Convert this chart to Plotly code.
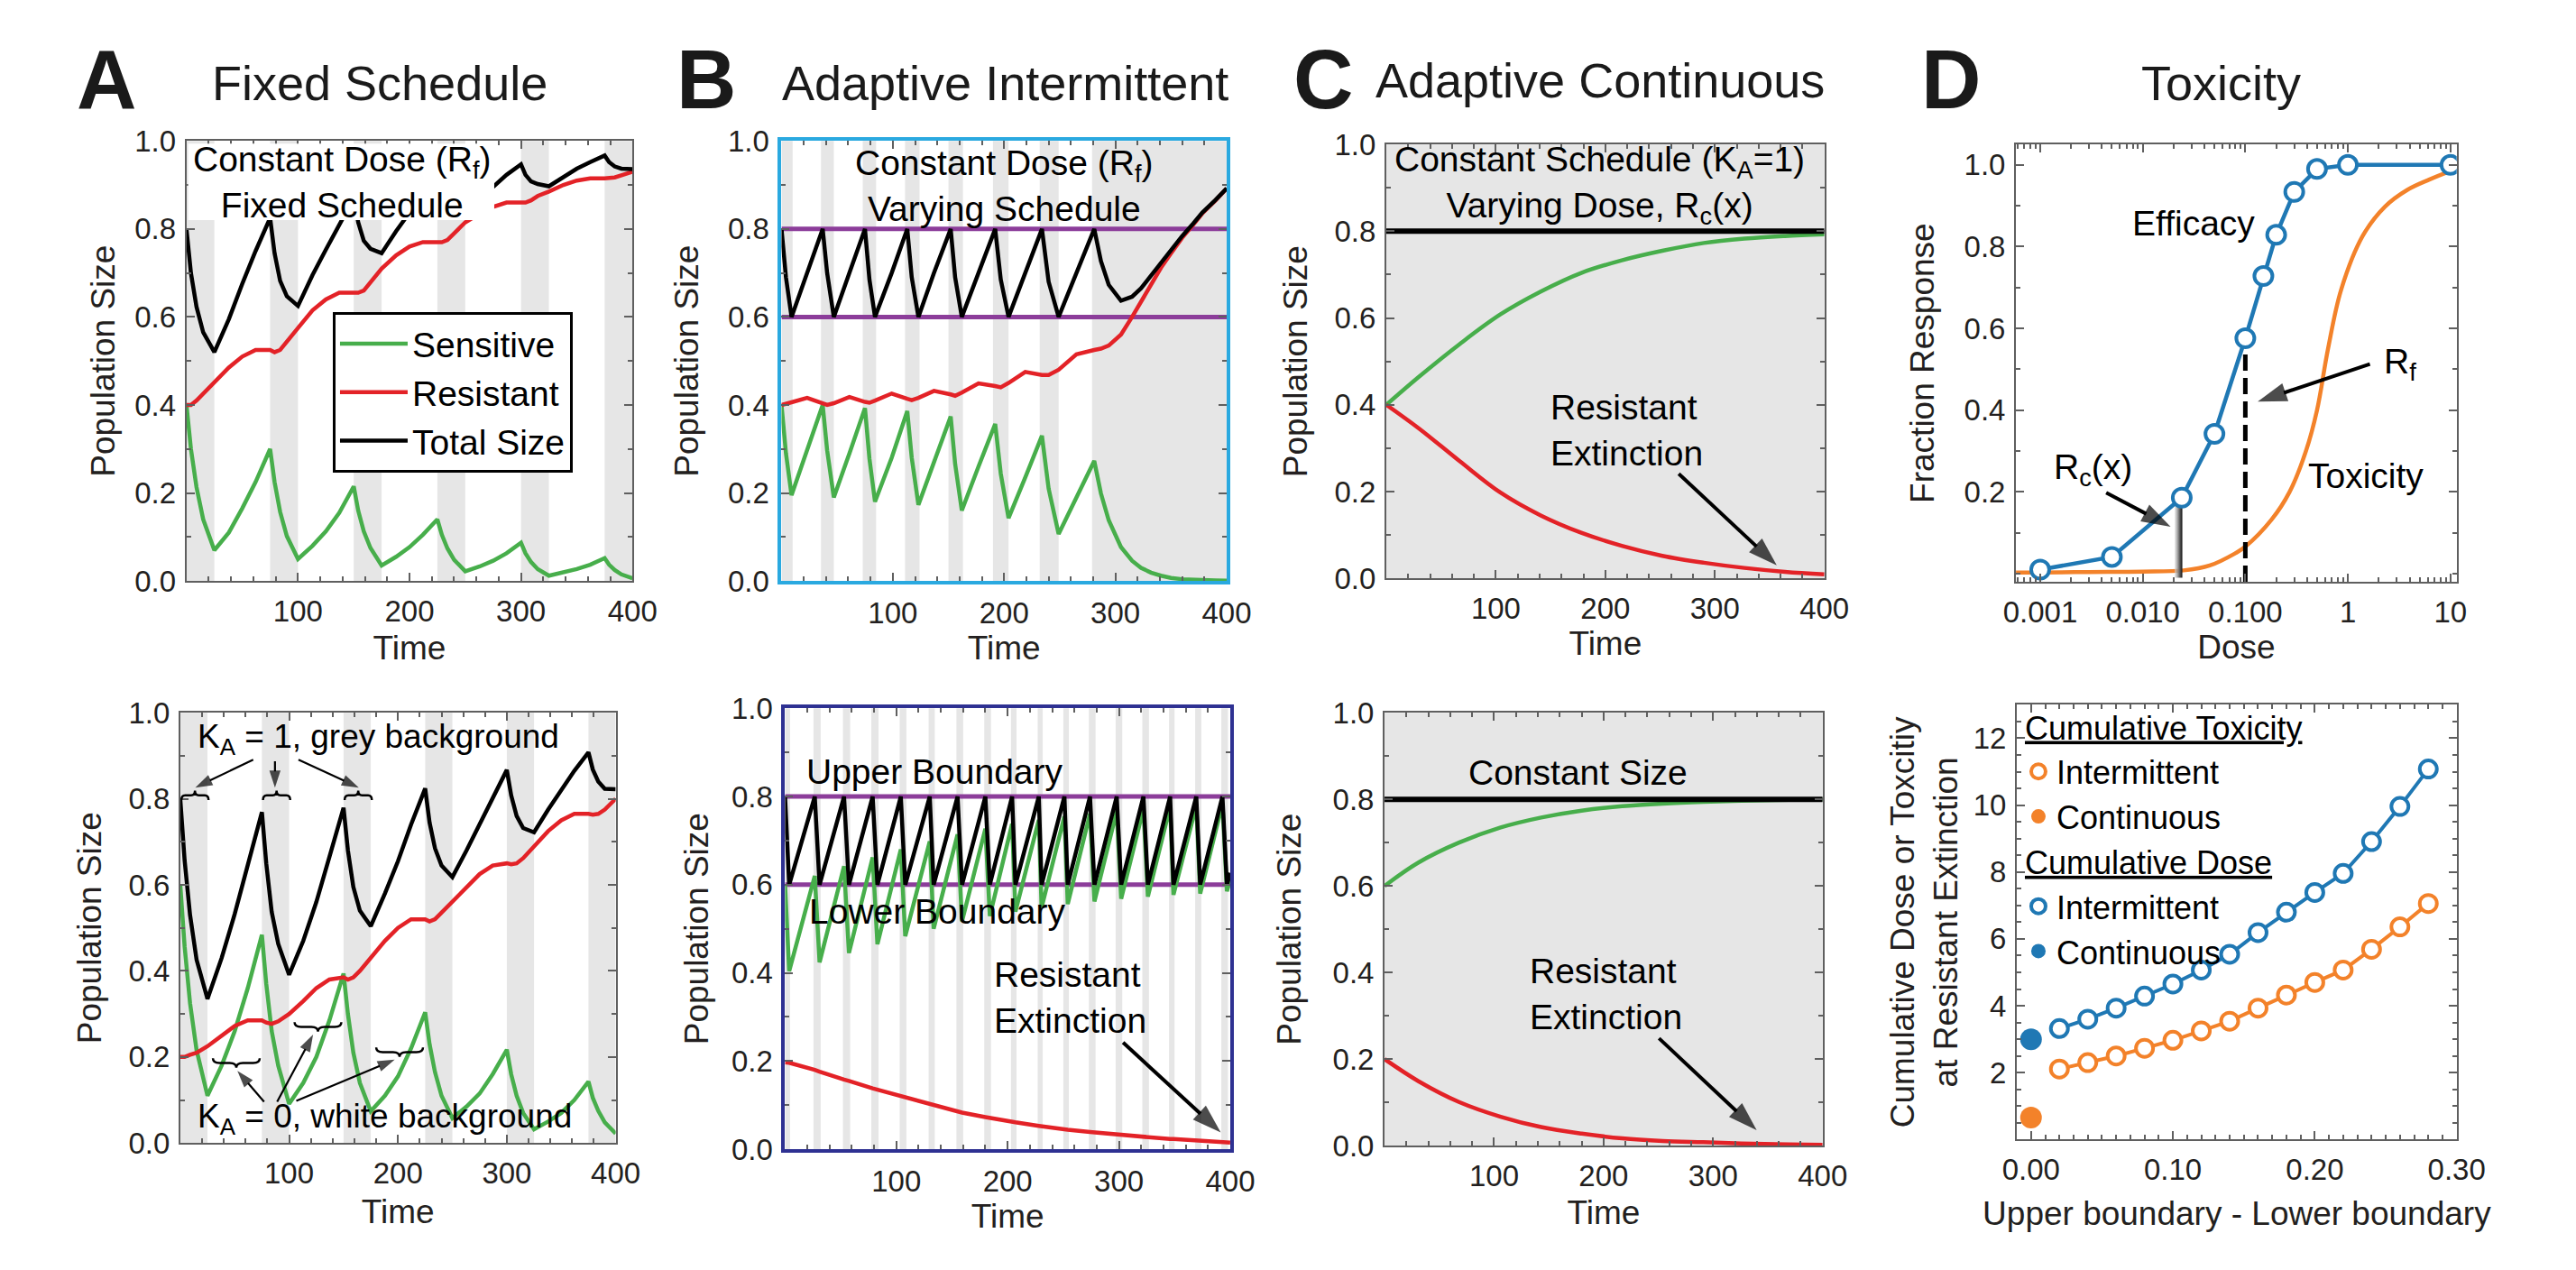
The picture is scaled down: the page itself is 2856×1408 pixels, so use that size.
import numpy as np
import plotly.graph_objects as go

W, H = 2856, 1408
FONT = "Liberation Sans, Arial, Helvetica, sans-serif"
TXT = "#231F20"
AXC = "#5F5F5F"
GREEN = "#47AE4B"
RED = "#E32227"
BLACK = "#000000"
PURPLE = "#8C3D9A"
BAND = "#E6E6E6"
BLUE = "#1F78B4"
ORANGE = "#F3822A"
B_TOP_FRAME = "#2AA9E0"
B_BOT_FRAME = "#2E3192"

# ======================= DATA =======================
# ---- Panel A: fixed schedule (treatment on during grey bands) ----
a_on_start = [0, 75, 150, 225, 300, 375]
a_on_end = [25, 100, 175, 250, 325, 400]
t_a = [0, 4, 9, 15, 25, 38, 50, 62, 75, 79, 84, 90, 100, 113, 125, 137, 150,
       154, 159, 165, 175, 188, 200, 212, 225, 229, 234, 240, 250, 263, 275,
       287, 300, 304, 309, 315, 325, 338, 350, 362, 375, 379, 384, 390, 400]
a_top_sens = [0.40, 0.30, 0.213, 0.14, 0.07, 0.11, 0.165, 0.225, 0.30,
              0.225, 0.157, 0.102, 0.05, 0.08, 0.113, 0.155, 0.215,
              0.16, 0.113, 0.075, 0.035, 0.055, 0.077, 0.105, 0.14,
              0.105, 0.074, 0.048, 0.022, 0.033, 0.046, 0.063, 0.087,
              0.063, 0.043, 0.027, 0.012, 0.019, 0.027, 0.037, 0.052,
              0.037, 0.025, 0.015, 0.006]
a_top_res = [0.40, 0.40, 0.41, 0.425, 0.45, 0.485, 0.51, 0.525, 0.525,
             0.52, 0.525, 0.545, 0.575, 0.615, 0.64, 0.655, 0.655,
             0.655, 0.66, 0.68, 0.71, 0.74, 0.76, 0.77, 0.77,
             0.77, 0.775, 0.79, 0.815, 0.835, 0.85, 0.86, 0.86,
             0.86, 0.865, 0.875, 0.885, 0.90, 0.91, 0.915, 0.915,
             0.915, 0.917, 0.922, 0.93]
a_top_total = [0.80, 0.70, 0.623, 0.565, 0.52, 0.595, 0.675, 0.75, 0.825,
               0.745, 0.682, 0.647, 0.625, 0.695, 0.753, 0.81, 0.87,
               0.815, 0.773, 0.755, 0.745, 0.795, 0.837, 0.875, 0.91,
               0.875, 0.849, 0.838, 0.837, 0.868, 0.896, 0.923, 0.947,
               0.923, 0.908, 0.902, 0.897, 0.919, 0.937, 0.952, 0.967,
               0.952, 0.942, 0.937, 0.936]
a_bot_sens = [0.60, 0.457, 0.325, 0.216, 0.11, 0.18, 0.26, 0.36, 0.484,
              0.37, 0.26, 0.18, 0.091, 0.14, 0.20, 0.285, 0.394,
              0.30, 0.21, 0.14, 0.074, 0.11, 0.155, 0.22, 0.304,
              0.23, 0.165, 0.11, 0.058, 0.085, 0.115, 0.16, 0.217,
              0.16, 0.11, 0.07, 0.032, 0.05, 0.07, 0.10, 0.143,
              0.105, 0.075, 0.048, 0.022]
a_bot_res = [0.20, 0.20, 0.205, 0.21, 0.225, 0.25, 0.272, 0.285, 0.285,
             0.28, 0.277, 0.283, 0.30, 0.33, 0.36, 0.38, 0.385,
             0.38, 0.385, 0.40, 0.43, 0.47, 0.50, 0.52, 0.52,
             0.515, 0.52, 0.535, 0.56, 0.595, 0.625, 0.645, 0.65,
             0.648, 0.65, 0.662, 0.69, 0.725, 0.75, 0.765, 0.765,
             0.763, 0.765, 0.775, 0.80]
a_bot_total = [0.80, 0.657, 0.53, 0.426, 0.335, 0.43, 0.532, 0.645, 0.769,
               0.65, 0.537, 0.463, 0.391, 0.47, 0.56, 0.665, 0.779,
               0.68, 0.595, 0.54, 0.504, 0.58, 0.655, 0.74, 0.824,
               0.745, 0.685, 0.645, 0.618, 0.68, 0.74, 0.805, 0.867,
               0.808, 0.76, 0.732, 0.722, 0.775, 0.82, 0.865, 0.908,
               0.868, 0.84, 0.823, 0.822]

# ---- Panel B: adaptive intermittent ----
upper_boundary = 0.8
lower_boundary = 0.6
b_top_on_start = [0, 35.5, 73, 111, 150, 190, 232, 279]
b_top_on_end = [10, 47, 85, 124, 163, 204, 249, 400]
t_b_top = [0, 4, 9, 23, 37, 41, 47, 61, 75, 79, 84, 99, 113, 117, 123, 137,
           152, 156, 162, 177, 192, 197, 204, 219, 234, 240, 249, 265, 281,
           287, 294, 305, 315, 323, 332, 341, 350, 360, 370, 378, 390, 400]
b_top_sens = [0.40, 0.29, 0.195, 0.30, 0.40, 0.297, 0.19, 0.29, 0.393, 0.278,
              0.18, 0.28, 0.386, 0.28, 0.173, 0.27, 0.374, 0.266, 0.16, 0.26,
              0.357, 0.244, 0.143, 0.235, 0.33, 0.21, 0.107, 0.19, 0.273,
              0.199, 0.138, 0.077, 0.046, 0.030, 0.019, 0.012, 0.007, 0.004,
              0.0025, 0.0017, 0.001, 0.0005]
b_top_res = [0.40, 0.402, 0.406, 0.416, 0.402, 0.40, 0.404, 0.418, 0.407,
             0.405, 0.41, 0.426, 0.414, 0.411, 0.416, 0.432, 0.424, 0.421,
             0.428, 0.449, 0.443, 0.44, 0.45, 0.475, 0.468, 0.468, 0.48,
             0.515, 0.525, 0.528, 0.535, 0.56, 0.60, 0.635, 0.675, 0.712,
             0.745, 0.78, 0.81, 0.835, 0.865, 0.892]
b_top_total = [0.80, 0.69, 0.60, 0.70, 0.80, 0.70, 0.60, 0.70, 0.80, 0.685,
               0.60, 0.70, 0.80, 0.69, 0.60, 0.70, 0.80, 0.69, 0.60, 0.70,
               0.80, 0.685, 0.60, 0.70, 0.80, 0.68, 0.60, 0.70, 0.80,
               0.727, 0.673, 0.637, 0.646, 0.665, 0.694, 0.724, 0.752, 0.784,
               0.8125, 0.837, 0.866, 0.8925]

b_bot_on_start = [0, 25.5, 52, 77.5, 103, 129, 154, 179, 203, 227, 250, 273,
                  297, 321, 345, 368.5, 392]
b_bot_on_end = [4.5, 32, 58.5, 84, 109, 134.5, 160, 185, 208, 231.5, 255, 279,
                303, 327, 350, 374, 398]
t_b_bot = [0, 3.7, 26.7, 31, 53, 57.4, 78.7, 83, 104, 108, 130, 133.5, 155,
           159, 180, 184, 204, 207, 228, 230.5, 251, 254, 274, 278, 298, 302,
           322, 326, 346, 349, 369.5, 373, 393, 397, 400]
b_bot_sens = [0.60, 0.404, 0.62, 0.424, 0.642, 0.445, 0.662, 0.465, 0.68,
              0.483, 0.698, 0.50, 0.714, 0.517, 0.727, 0.529, 0.738, 0.539,
              0.747, 0.548, 0.755, 0.556, 0.761, 0.562, 0.767, 0.568, 0.772,
              0.573, 0.777, 0.577, 0.78, 0.58, 0.784, 0.585, 0.612]
b_bot_res = [0.197, 0.196, 0.18, 0.176, 0.158, 0.155, 0.138, 0.135, 0.12,
             0.117, 0.102, 0.10, 0.086, 0.083, 0.073, 0.071, 0.062, 0.061,
             0.053, 0.052, 0.045, 0.044, 0.039, 0.038, 0.033, 0.032, 0.028,
             0.027, 0.023, 0.023, 0.02, 0.0195, 0.016, 0.015, 0.015]
b_bot_total = [0.80, 0.60, 0.80, 0.60, 0.80, 0.60, 0.80, 0.60, 0.80, 0.60,
               0.80, 0.60, 0.80, 0.60, 0.80, 0.60, 0.80, 0.60, 0.80, 0.60,
               0.80, 0.60, 0.80, 0.60, 0.80, 0.60, 0.80, 0.60, 0.80, 0.60,
               0.80, 0.60, 0.80, 0.60, 0.627]

# ---- Panel C: adaptive continuous ----
t_c_top = [0, 30, 67, 104, 141, 178, 215, 252, 290, 327, 364, 400]
c_top_sens = [0.40, 0.465, 0.54, 0.608, 0.661, 0.704, 0.733, 0.755, 0.773,
              0.783, 0.789, 0.793]
c_top_res = [0.40, 0.345, 0.27, 0.198, 0.145, 0.105, 0.075, 0.052, 0.036,
             0.024, 0.015, 0.009]
t_c_total = [0, 400]
c_total = [0.8, 0.8]
t_c_bot = [0, 31, 68, 106, 143, 180, 217, 254, 291, 347, 400]
c_bot_sens = [0.60, 0.654, 0.70, 0.735, 0.758, 0.774, 0.784, 0.79, 0.794,
              0.798, 0.80]
c_bot_res = [0.20, 0.149, 0.101, 0.067, 0.043, 0.028, 0.017, 0.011, 0.008,
             0.004, 0.002]

# ---- Panel D: dose response ----
eff_dose = [0.001, 0.005, 0.024, 0.05, 0.1, 0.15, 0.2, 0.3, 0.5, 1, 10]
eff_resp = [0.010, 0.041, 0.186, 0.342, 0.576, 0.728, 0.829, 0.934, 0.99, 1.0, 1.0]
tox_dose = [0.00058, 0.001, 0.003, 0.01, 0.025, 0.045, 0.08, 0.1, 0.18, 0.27,
            0.39, 0.5, 0.64, 0.86, 1.4, 2.3, 3.8, 6.2, 10]
tox_resp = [0.003, 0.003, 0.004, 0.005, 0.008, 0.02, 0.05, 0.066, 0.132, 0.20,
            0.30, 0.40, 0.55, 0.695, 0.827, 0.898, 0.939, 0.964, 0.985]
rf_dose = 0.1
rf_resp = 0.585
rc_dose = [0.0205, 0.0243]
rc_resp_top = [0.168, 0.186]

bound_width = [0.02, 0.04, 0.06, 0.08, 0.10, 0.12, 0.14, 0.16, 0.18, 0.20,
               0.22, 0.24, 0.26, 0.28]
cum_dose_int = [3.32, 3.60, 3.93, 4.29, 4.65, 5.07, 5.54, 6.19, 6.80, 7.39,
                7.96, 8.91, 9.96, 11.08]
cum_tox_int = [2.11, 2.30, 2.50, 2.73, 2.97, 3.25, 3.54, 3.93, 4.32, 4.70,
               5.07, 5.69, 6.36, 7.06]
cont_width = [0.0]
cum_dose_cont = [3.0]
cum_tox_cont = [0.66]

# ======================= FIGURE =======================
fig = go.Figure()

def xa(n):
    return "x" if n == 1 else f"x{n}"

def ya(n):
    return "y" if n == 1 else f"y{n}"

def sub(s):
    # subscript via a styled span (no zero-width helper glyphs)
    return f'<span style="font-size:70%;baseline-shift:-8px">{s}</span>'

def add_line(n, x, y, color, width=4.5, name=None, legend=None, shape="linear", dash=None):
    fig.add_trace(go.Scatter(
        x=x, y=y, mode="lines", name=name,
        line=dict(color=color, width=width, shape=shape, dash=dash),
        xaxis=xa(n), yaxis=ya(n), hoverinfo="skip",
        showlegend=legend is not None, legend=legend or "legend"))

def add_bands(n, starts, ends):
    for s, e in zip(starts, ends):
        fig.add_shape(type="rect", xref=xa(n), yref=f"{ya(n)} domain",
                      x0=s, x1=e, y0=0, y1=1, fillcolor=BAND,
                      line=dict(width=0), layer="below")

# ---- A top ----
add_bands(1, a_on_start, a_on_end)
add_line(1, t_a, a_top_sens, GREEN, name="Sensitive", legend="legend")
add_line(1, t_a, a_top_res, RED, name="Resistant", legend="legend")
add_line(1, t_a, a_top_total, BLACK, name="Total Size", legend="legend")

# ---- B top ----
add_bands(2, b_top_on_start, b_top_on_end)
for lvl in (upper_boundary, lower_boundary):
    add_line(2, [0, 400], [lvl, lvl], PURPLE, width=5)
add_line(2, t_b_top, b_top_sens, GREEN)
add_line(2, t_b_top, b_top_res, RED)
add_line(2, t_b_top, b_top_total, BLACK)

# ---- C top ----
fig.add_shape(type="rect", xref="x3 domain", yref="y3 domain", x0=0, x1=1, y0=0, y1=1,
              fillcolor=BAND, line=dict(width=0), layer="below")
add_line(3, t_c_top, c_top_sens, GREEN, shape="spline")
add_line(3, t_c_top, c_top_res, RED, shape="spline")
add_line(3, t_c_total, c_total, BLACK, width=6)

# ---- D top ----
add_line(4, tox_dose, tox_resp, ORANGE, width=4.5, shape="spline")
fig.add_trace(go.Scatter(
    x=[rc_dose[0], rc_dose[1], rc_dose[1], rc_dose[0], rc_dose[0]],
    y=[-0.01, -0.01, rc_resp_top[1], rc_resp_top[0], -0.01],
    mode="lines", fill="toself", line=dict(width=0),
    fillgradient=dict(type="horizontal",
                      colorscale=[[0, "rgba(215,215,215,0.6)"], [0.6, "#6a6a6a"], [1, "#111111"]]),
    xaxis="x4", yaxis="y4", showlegend=False, hoverinfo="skip"))
add_line(4, [rf_dose, rf_dose], [-0.02, rf_resp], BLACK, width=5, dash="18px,8px")
fig.add_trace(go.Scatter(
    x=eff_dose, y=eff_resp, mode="lines+markers",
    line=dict(color=BLUE, width=4.5),
    marker=dict(symbol="circle", size=20, color="white", line=dict(color=BLUE, width=4)),
    xaxis="x4", yaxis="y4", showlegend=False, hoverinfo="skip"))

# ---- A bottom ----
add_bands(5, a_on_start, a_on_end)
add_line(5, t_a, a_bot_sens, GREEN)
add_line(5, t_a, a_bot_res, RED)
add_line(5, t_a, a_bot_total, BLACK)

# ---- B bottom ----
add_bands(6, b_bot_on_start, b_bot_on_end)
for lvl in (upper_boundary, lower_boundary):
    add_line(6, [0, 400], [lvl, lvl], PURPLE, width=5)
add_line(6, t_b_bot, b_bot_sens, GREEN)
add_line(6, t_b_bot, b_bot_res, RED)
add_line(6, t_b_bot, b_bot_total, BLACK)

# ---- C bottom ----
fig.add_shape(type="rect", xref="x7 domain", yref="y7 domain", x0=0, x1=1, y0=0, y1=1,
              fillcolor=BAND, line=dict(width=0), layer="below")
add_line(7, t_c_bot, c_bot_sens, GREEN, shape="spline")
add_line(7, t_c_bot, c_bot_res, RED, shape="spline")
add_line(7, t_c_total, c_total, BLACK, width=6)

# ---- D bottom ----
add_line(8, bound_width, cum_tox_int, ORANGE, width=4)
add_line(8, bound_width, cum_dose_int, BLUE, width=4)

def open_marker(c):
    return dict(symbol="circle", size=19, color="white", line=dict(color=c, width=4))

fig.add_trace(go.Scatter(x=bound_width, y=cum_tox_int, mode="markers", name="Intermittent",
                         marker=open_marker(ORANGE), xaxis="x8", yaxis="y8",
                         legend="legend2", legendgroup="tox",
                         legendgrouptitle=dict(text="<u>Cumulative Toxicity</u>"),
                         hoverinfo="skip"))
fig.add_trace(go.Scatter(x=cont_width, y=cum_tox_cont, mode="markers", name="Continuous",
                         marker=dict(symbol="circle", size=24, color=ORANGE),
                         xaxis="x8", yaxis="y8", legend="legend2", legendgroup="tox",
                         hoverinfo="skip"))
fig.add_trace(go.Scatter(x=bound_width, y=cum_dose_int, mode="markers", name="Intermittent",
                         marker=open_marker(BLUE), xaxis="x8", yaxis="y8",
                         legend="legend2", legendgroup="dose",
                         legendgrouptitle=dict(text="<u>Cumulative Dose</u>"),
                         hoverinfo="skip"))
fig.add_trace(go.Scatter(x=cont_width, y=cum_dose_cont, mode="markers", name="Continuous",
                         marker=dict(symbol="circle", size=24, color=BLUE),
                         xaxis="x8", yaxis="y8", legend="legend2", legendgroup="dose",
                         hoverinfo="skip"))

# ======================= ARROWS (line + arrow-head marker) =======================
def arrow(n, tail, head, width=4.0, head_size=34):
    fig.add_trace(go.Scatter(
        x=[tail[0], head[0]], y=[tail[1], head[1]], mode="lines+markers",
        line=dict(color="black", width=width),
        marker=dict(symbol="arrow", size=[0, head_size], angleref="previous",
                    color="black", line=dict(width=0)),
        xaxis=xa(n), yaxis=ya(n), showlegend=False, hoverinfo="skip"))

arrow(3, (267, 0.241), (356.5, 0.03))
arrow(7, (250.6, 0.248), (339.8, 0.036))
arrow(6, (303.7, 0.242), (391.5, 0.038))
arrow(4, (1.64, 0.513), (0.132, 0.421))
arrow(4, (0.0044, 0.198), (0.0187, 0.115))
for tail, head in (((67, 0.891), (13.8, 0.826)), ((87, 0.887), (87, 0.826)),
                   ((108.6, 0.891), (164, 0.826)), ((77, 0.096), (52.5, 0.168)),
                   ((89, 0.096), (122, 0.252)), ((106.6, 0.098), (197, 0.194))):
    arrow(5, tail, head, width=2.2, head_size=20)

# ======================= AXES =======================
boxes = {  # pixel boxes: (left, right, top, bottom)
    1: (194, 697, 142, 643), 2: (865, 1367, 142, 643),
    3: (1547, 2041, 146, 640), 4: (2257, 2754, 146, 644),
    5: (187, 678, 793, 1283), 6: (869, 1371, 788, 1290),
    7: (1545, 2039, 793, 1286), 8: (2258, 2754, 784, 1279),
}

def axis(n, which, frame=AXC, fw=2, **kw):
    l, r, t, b = boxes[n]
    if which == "x":
        dom = [l / W, r / W]
        anchor = ya(n)
    else:
        dom = [1 - b / H, 1 - t / H]
        anchor = xa(n)
    d = dict(domain=dom, anchor=anchor, showline=True, linecolor=frame, linewidth=fw,
             mirror="allticks", ticks="inside", ticklen=9, tickwidth=2, tickcolor=AXC,
             showgrid=False, zeroline=False, ticklabelstandoff=3,
             tickfont=dict(family=FONT, size=33, color=TXT))
    d.update(kw)
    return d

def minor(vals):
    return dict(tickvals=vals, ticks="inside", ticklen=5, tickwidth=1.5, tickcolor=AXC, showgrid=False)

time_minor = [v for v in range(20, 400, 20) if v % 100]
pop_ticks = [0.0, 0.2, 0.4, 0.6, 0.8, 1.0]
pop_minor = [0.1, 0.3, 0.5, 0.7, 0.9]

def title(text, standoff, size=37):
    return dict(text=text, standoff=standoff, font=dict(family=FONT, size=size, color=TXT))

layout_axes = {}
pop_std = {1: 10, 2: 22, 3: 19, 5: 18, 6: 15, 7: 24}
time_std = {1: 10, 2: 4, 3: 4, 5: 12, 6: 5, 7: 10}
for n in (1, 2, 3, 5, 6, 7):
    frame, fw = AXC, 2
    if n == 2:
        frame, fw = B_TOP_FRAME, 4
    if n == 6:
        frame, fw = B_BOT_FRAME, 4
    xk = "xaxis" if n == 1 else f"xaxis{n}"
    yk = "yaxis" if n == 1 else f"yaxis{n}"
    layout_axes[xk] = axis(n, "x", frame, fw, range=[0, 400], tickvals=[100, 200, 300, 400],
                           minor=minor(time_minor), title=title("Time", time_std[n]))
    layout_axes[yk] = axis(n, "y", frame, fw, range=[0, 1], tickvals=pop_ticks, tickformat=".1f",
                           minor=minor(pop_minor), title=title("Population Size", pop_std[n]))

dose_lo, dose_hi = 0.00058, 11.5
log_minor = [k * 10.0 ** e for e in range(-4, 2) for k in range(2, 10)
             if dose_lo <= k * 10.0 ** e <= dose_hi]
layout_axes["xaxis4"] = axis(4, "x", type="log", range=[np.log10(dose_lo), np.log10(dose_hi)],
                             tickvals=[0.001, 0.01, 0.1, 1, 10],
                             ticktext=["0.001", "0.010", "0.100", "1", "10"],
                             minor=minor(log_minor), title=title("Dose", 1))
layout_axes["yaxis4"] = axis(4, "y", range=[-0.02, 1.05], tickvals=[0.2, 0.4, 0.6, 0.8, 1.0],
                             tickformat=".1f", minor=minor([0.0, 0.1, 0.3, 0.5, 0.7, 0.9]),
                             title=title("Fraction Response", 22))
layout_axes["xaxis8"] = axis(8, "x", range=[-0.01, 0.30], tickvals=[0, 0.1, 0.2, 0.3],
                             ticktext=["0.00", "0.10", "0.20", "0.30"],
                             minor=minor([round(0.01 * k, 2) for k in range(1, 30) if k % 10]),
                             title=title("Upper boundary - Lower boundary", 18))
layout_axes["yaxis8"] = axis(8, "y", range=[0, 13], tickvals=[2, 4, 6, 8, 10, 12],
                             minor=minor([v / 2 for v in range(1, 26) if v % 4]),
                             title=title("Cumulative Dose or Toxcitiy<br>at Resistant Extinction", 6))

# ======================= ANNOTATIONS =======================
def note(n, x, y, text, size=39, **kw):
    d = dict(xref=xa(n), yref=ya(n), x=x, y=y, text=text, showarrow=False,
             font=dict(family=FONT, size=size, color="black"))
    d.update(kw)
    fig.add_annotation(**d)

def paper(px, py, text, size, bold=False):
    fig.add_annotation(xref="paper", yref="paper", x=px / W, y=1 - py / H,
                       text=f"<b>{text}</b>" if bold else text, showarrow=False,
                       xanchor="center", yanchor="middle",
                       font=dict(family=FONT, size=size, color="#1A1A1A"))

for px, letter in ((104, "A"), (780, "B"), (1476, "C"), (2184, "D")):
    paper(px, 72, letter, 92, bold=True)
for px, py, t in ((412, 76, "Fixed Schedule"), (1117, 76, "Adaptive Intermittent"),
                  (1788, 73, "Adaptive Continuous"), (2488, 76, "Toxicity")):
    paper(px, py, t, 54)

# A top: white text box
fig.add_shape(type="rect", xref="x", yref="y", x0=1.5, x1=276, y0=0.82, y1=0.994,
              fillcolor="white", line=dict(width=0), layer="above")
note(1, 140, 0.907, f"Constant Dose (R{sub('f')})<br>Fixed Schedule")

# B top
note(2, 200, 0.899, f"Constant Dose (R{sub('f')})<br>Varying Schedule")

# C top
note(3, 195, 0.907, f"Constant Schedule (K{sub('A')}=1)<br>Varying Dose, R{sub('c')}(x)")
note(3, 148.6, 0.341, "Resistant<br>Extinction", xanchor="left", align="left")

# C bottom
note(7, 177, 0.862, "Constant Size")
note(7, 131, 0.35, "Resistant<br>Extinction", xanchor="left", align="left")

# B bottom
note(6, 17.2, 0.857, "Upper Boundary", xanchor="left")
note(6, 20, 0.539, "Lower Boundary", xanchor="left")
note(6, 186, 0.344, "Resistant<br>Extinction", xanchor="left", align="left")

# D top (log x axis: annotation positions in log10 units)
note(4, np.log10(0.0316), 0.858, "Efficacy")
note(4, np.log10(1.49), 0.239, "Toxicity")
note(4, np.log10(3.2), 0.513, f"R{sub('f')}")
note(4, np.log10(0.00327), 0.254, f"R{sub('c')}(x)")

# A bottom: braces
def brace(n, x0, x1, y, h):
    xm = (x0 + x1) / 2
    q = (x1 - x0) * 0.14
    m = y + h / 2
    path = (f"M{x0},{y} Q{x0},{m} {x0 + q},{m} L{xm - q},{m} Q{xm},{m} {xm},{y + h} "
            f"Q{xm},{m} {xm + q},{m} L{x1 - q},{m} Q{x1},{m} {x1},{y}")
    fig.add_shape(type="path", path=path, xref=xa(n), yref=ya(n),
                  line=dict(color="black", width=2.5), layer="above")

for s, e in zip(a_on_start[:3], a_on_end[:3]):
    brace(5, s + 1, e + 1, 0.797, 0.022)
for (s, e, y) in ((30, 73, 0.197), (105, 148, 0.281), (180, 223, 0.222)):
    brace(5, s, e, y, -0.022)

note(5, 182, 0.939, f"K{sub('A')} = 1, grey background", size=37)
note(5, 187.5, 0.057, f"K{sub('A')} = 0, white background", size=37)

# ======================= LAYOUT =======================
fig.update_layout(
    width=W, height=H, margin=dict(l=0, r=0, t=0, b=0),
    paper_bgcolor="white", plot_bgcolor="white", hovermode=False,
    font=dict(family=FONT, color=TXT),
    legend=dict(x=359 / W, y=1 - 337 / H, xanchor="left", yanchor="top",
                bgcolor="white", bordercolor="black", borderwidth=3,
                font=dict(family=FONT, size=39, color="black"),
                itemwidth=75, tracegroupgap=0),
    legend2=dict(x=2262 / W, y=1 - 778 / H, xanchor="left", yanchor="top",
                 bgcolor="rgba(0,0,0,0)", borderwidth=0,
                 font=dict(family=FONT, size=36, color="black"),
                 grouptitlefont=dict(family=FONT, size=36, color="black"),
                 tracegroupgap=0, traceorder="grouped"),
    **layout_axes,
)

fig.write_html("out.html")
